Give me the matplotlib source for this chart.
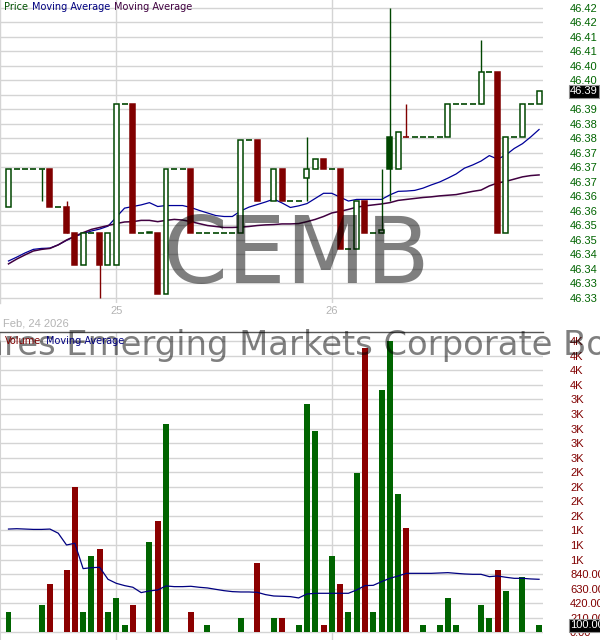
import numpy as np
import matplotlib
matplotlib.use('Agg')
import matplotlib.pyplot as plt
from matplotlib.transforms import blended_transform_factory

nan = float('nan')

# ---------------- data (15-minute bars) ----------------
opens = [46.358, 46.37, 46.37, 46.37, 46.37, 46.37, 46.358, 46.358, 46.35, 46.34,
         46.35, 46.35, 46.34, 46.34, 46.39, 46.39, 46.35, 46.3504, 46.35, 46.331,
         46.37, 46.37, 46.37, 46.35, 46.35, 46.35, 46.35, 46.35, 46.35, 46.379,
         46.379, nan, 46.36, 46.37, 46.36, 46.36, 46.367, 46.37, 46.373, 46.37,
         46.37, 46.345, 46.345, 46.36, 46.35, 46.35, 46.38, 46.37, 46.38, 46.38,
         46.38, 46.38, 46.38, 46.38, 46.39, 46.39, 46.39, 46.39, 46.40, 46.40,
         46.35, 46.38, 46.38, 46.39, 46.39]
highs = [46.37, 46.37, 46.37, 46.37, 46.37, 46.37, 46.358, 46.36, 46.35, 46.35,
         46.35, 46.35, 46.35, 46.39, 46.39, 46.39, 46.35, 46.3504, 46.35, 46.37,
         46.37, 46.37, 46.37, 46.35, 46.35, 46.35, 46.35, 46.35, 46.379, 46.379,
         46.379, nan, 46.37, 46.37, 46.36, 46.36, 46.38, 46.373, 46.373, 46.37,
         46.37, 46.345, 46.36, 46.36, 46.35, 46.37, 46.42, 46.3815, 46.39, 46.38,
         46.38, 46.38, 46.38, 46.39, 46.39, 46.39, 46.39, 46.41, 46.40, 46.40,
         46.38, 46.38, 46.39, 46.39, 46.394]
lows = [46.358, 46.37, 46.37, 46.37, 46.36, 46.358, 46.358, 46.35, 46.34, 46.34,
        46.35, 46.33, 46.34, 46.34, 46.39, 46.35, 46.35, 46.35, 46.331, 46.331,
        46.37, 46.37, 46.35, 46.35, 46.35, 46.35, 46.35, 46.35, 46.35, 46.379,
        46.36, nan, 46.36, 46.36, 46.36, 46.36, 46.36, 46.37, 46.37, 46.37,
        46.345, 46.345, 46.345, 46.35, 46.35, 46.35, 46.36, 46.37, 46.38, 46.38,
        46.38, 46.38, 46.38, 46.38, 46.39, 46.39, 46.39, 46.39, 46.40, 46.35,
        46.35, 46.38, 46.38, 46.39, 46.39]
closes = [46.37, 46.37, 46.37, 46.37, 46.37, 46.358, 46.358, 46.35, 46.34, 46.35,
          46.35, 46.34, 46.35, 46.39, 46.39, 46.35, 46.35, 46.35, 46.331, 46.37,
          46.37, 46.37, 46.35, 46.35, 46.35, 46.35, 46.35, 46.35, 46.379, 46.379,
          46.36, nan, 46.37, 46.36, 46.36, 46.36, 46.37, 46.373, 46.37, 46.37,
          46.345, 46.345, 46.36, 46.35, 46.35, 46.351, 46.37, 46.3815, 46.38, 46.38,
          46.38, 46.38, 46.38, 46.39, 46.39, 46.39, 46.39, 46.40, 46.40, 46.35,
          46.38, 46.38, 46.39, 46.39, 46.394]
ma_fast = [46.3414, 46.3426, 46.3439, 46.3450, 46.3453, 46.3454, 46.3464, 46.3478, 46.3490, 46.3499,
           46.3507, 46.3513, 46.3522, 46.3550, 46.3578, 46.3583, 46.3588, 46.3595, 46.3583, 46.3586,
           46.3586, 46.3586, 46.3580, 46.3571, 46.3563, 46.3555, 46.3552, 46.3552, 46.3569, 46.3581,
           46.3589, 46.3597, 46.3606, 46.3594, 46.3580, 46.3585, 46.3592, 46.3608, 46.3624, 46.3624,
           46.3612, 46.3600, 46.3605, 46.3605, 46.3605, 46.3605, 46.3619, 46.3630, 46.3631, 46.3633,
           46.3640, 46.3650, 46.3659, 46.3671, 46.3684, 46.3702, 46.3712, 46.3724, 46.3741, 46.3730,
           46.3743, 46.3763, 46.3778, 46.3799, 46.3822]
ma_slow = [46.3405, 46.3420, 46.3433, 46.3445, 46.3450, 46.3453, 46.3464, 46.3479, 46.3491, 46.3502,
           46.3512, 46.3518, 46.3524, 46.3530, 46.3535, 46.3536, 46.3540, 46.3540, 46.3536, 46.3540,
           46.3543, 46.3541, 46.3536, 46.3530, 46.3524, 46.3521, 46.3518, 46.3518, 46.3519, 46.3521,
           46.3524, 46.3526, 46.3527, 46.3529, 46.3529, 46.3530, 46.3536, 46.3543, 46.3552, 46.3563,
           46.3568, 46.3574, 46.3581, 46.3585, 46.3588, 46.3591, 46.3595, 46.3602, 46.3605, 46.3608,
           46.3611, 46.3613, 46.3616, 46.3618, 46.3620, 46.3625, 46.3630, 46.3634, 46.3647, 46.3656,
           46.3661, 46.3668, 46.3675, 46.3679, 46.3681]
volumes = [300, 0, 0, 0, 400, 700, 0, 900, 2100, 300,
           1100, 1200, 300, 500, 100, 400, 0, 1300, 1600, 3000,
           0, 0, 300, 0, 100, 0, 0, 0, 200, 0,
           1000, 0, 200, 200, 0, 100, 3300, 2900, 100, 1100,
           700, 300, 2300, 4100, 300, 3500, 4200, 2000, 1500, 0,
           100, 0, 100, 500, 100, 0, 0, 400, 200, 900,
           600, 0, 800, 0, 100]
vol_ma = [1490, 1495, 1490, 1485, 1485, 1490, 1430, 1260, 1285, 919,
          933, 938, 765, 707, 674, 650, 573, 597, 611, 669,
          659, 659, 664, 650, 640, 620, 601, 587, 582, 582,
          577, 544, 524, 520, 515, 496, 553, 563, 563, 563,
          563, 563, 611, 674, 678, 731, 779, 813, 851, 851,
          851, 851, 856, 861, 851, 842, 837, 837, 803, 813,
          794, 779, 779, 770, 765]

day_ticks = [13, 39]
day_labels = ['25', '26']
date_caption = 'Feb, 24 2026'
price_ticks = [46.33, 46.3345, 46.339, 46.3435, 46.348, 46.3525, 46.357, 46.3615, 46.366, 46.3705,
               46.375, 46.3795, 46.384, 46.3885, 46.393, 46.3975, 46.402, 46.4065, 46.411, 46.4155, 46.42]
price_labels = ['46.33', '46.33', '46.34', '46.34', '46.35', '46.35', '46.36', '46.36', '46.37', '46.37',
                '46.37', '46.38', '46.38', '46.39', '46.39', '46.40', '46.40', '46.41', '46.41', '46.42', '46.42']
vol_ticks = [0, 210, 420, 630, 840, 1050, 1260, 1470, 1680, 1890, 2100,
             2310, 2520, 2730, 2940, 3150, 3360, 3570, 3780, 3990, 4200]
vol_labels = ['0.00', '210.00', '420.00', '630.00', '840.00', '1K', '1K', '1K', '2K', '2K', '2K',
              '2K', '3K', '3K', '3K', '3K', '3K', '4K', '4K', '4K', '4K']
last_price_label = '46.39'
last_vol_label = '100.00'

# ---------------- styles ----------------
GREEN = '#004600'
RED = '#800000'
VGREEN = '#006400'
VRED = '#8b0000'
GRID = '#d4d4d4'
BLUE = '#000099'
PURPLE = '#400040'

W, H = 600, 640
fig = plt.figure(figsize=(6, 6.4), dpi=100)
fig.patch.set_facecolor('white')

axp = fig.add_axes([0, 1 - 303 / H, 543 / W, 303 / H])
axv = fig.add_axes([0, 0, 543 / W, 307.7 / H])

xlim = (-1.025, 64.475)
n = len(closes)
x = np.arange(n)

# ---------------- price panel ----------------
axp.set_axisbelow(True)
axp.plot(x, ma_fast, color=BLUE, lw=0.9, zorder=2)
axp.plot(x, ma_slow, color=PURPLE, lw=1.1, zorder=2)

prev = None
for i in range(n):
    o, h, l, c = opens[i], highs[i], lows[i], closes[i]
    if np.isnan(c):
        continue
    col = GREEN if (prev is None or c >= prev) else RED
    prev = c
    if h > max(o, c) + 1e-9 or l < min(o, c) - 1e-9:
        axp.vlines(i, l, h, color=col, lw=1.0, zorder=3)
    if abs(c - o) < 1e-9:
        axp.hlines(c, i - 0.36, i + 0.36, color=col, lw=1.2, zorder=4)
    else:
        face = 'white' if c > o else col
        axp.bar(i, abs(c - o), bottom=min(o, c), width=0.6, facecolor=face,
                edgecolor=col, linewidth=1.1, zorder=4)

axp.set_xlim(*xlim)
axp.set_ylim(46.32836, 46.42238)
axp.set_yticks(price_ticks)
axp.set_yticklabels(price_labels)
axp.yaxis.tick_right()
axp.tick_params(axis='y', length=0, pad=19.5, labelsize=8, labelcolor='#006400')
for t in axp.get_yticklabels():
    t.set_family('Liberation Sans')
axp.set_xticks(day_ticks)
axp.set_xticklabels(day_labels)
axp.tick_params(axis='x', length=0, pad=2.5, labelsize=8, labelcolor='#b4b4b4')
for t in axp.get_xticklabels():
    t.set_family('Liberation Sans')
axp.grid(True, color=GRID, lw=1.0)
for s in ['top', 'right', 'bottom']:
    axp.spines[s].set_visible(False)
axp.spines['left'].set_color(GRID)
axp.spines['left'].set_linewidth(1.0)

trp = blended_transform_factory(axp.transAxes, axp.transData)
axp.text(570 / 543, closes[-1], last_price_label, transform=trp, ha='left', va='center',
         fontsize=8, family='Liberation Sans', color='white', zorder=10,
         bbox=dict(boxstyle='square,pad=0.12', fc='black', ec='#909090', lw=0.8))

# ---------------- volume panel ----------------
axv.set_axisbelow(True)
vcols = []
prev = None
for i in range(n):
    c = closes[i]
    if np.isnan(c):
        vcols.append(VGREEN)
        continue
    vcols.append(VGREEN if (prev is None or c >= prev) else VRED)
    prev = c
axv.bar(x, volumes, width=0.72, color=vcols, linewidth=0, zorder=3)
axv.plot(x, vol_ma, color='#000080', lw=0.9, zorder=4)

axv.set_xlim(*xlim)
axv.set_ylim(-111.1, 4329.6)
axv.set_yticks(vol_ticks)
axv.set_yticklabels(vol_labels)
axv.yaxis.tick_right()
axv.tick_params(axis='y', length=0, pad=19.5, labelsize=8, labelcolor=RED)
for t in axv.get_yticklabels():
    t.set_family('Liberation Sans')
axv.set_xticks(day_ticks)
axv.set_xticklabels([])
axv.tick_params(axis='x', length=0)
axv.grid(True, color=GRID, lw=1.0)
for s in ['right', 'bottom']:
    axv.spines[s].set_visible(False)
axv.spines['top'].set_color('#555555')
axv.spines['top'].set_linewidth(1.0)
axv.spines['left'].set_color(GRID)

trv = blended_transform_factory(axv.transAxes, axv.transData)
axv.text(570 / 543, volumes[-1], last_vol_label, transform=trv, ha='left', va='center',
         fontsize=8, family='Liberation Sans', color='white', zorder=10,
         bbox=dict(boxstyle='square,pad=0.12', fc='black', ec='#909090', lw=0.8))

# ---------------- texts ----------------
fig.text(296.5 / W, 1 - 283.3 / H, 'CEMB', ha='center', va='baseline', fontsize=67,
         family='DejaVu Sans', color='black', alpha=0.5, zorder=20)
fig.text(326 / W, 1 - 355 / H, 'iShares Emerging Markets Corporate Bond ETF', ha='center',
         va='baseline', fontsize=24.3, family='DejaVu Sans', color='black', alpha=0.5, zorder=20)

fig.text(4 / W, 1 - 7 / H, 'Price', ha='left', va='center', fontsize=7, color='#005000')
fig.text(32.3 / W, 1 - 7 / H, 'Moving Average', ha='left', va='center', fontsize=7, color='#000080')
fig.text(114.3 / W, 1 - 7 / H, 'Moving Average', ha='left', va='center', fontsize=7, color=PURPLE)

fig.text(5 / W, 1 - 341 / H, 'Volume', ha='left', va='center', fontsize=7, color=RED, zorder=21)
fig.text(45.7 / W, 1 - 341 / H, 'Moving Average', ha='left', va='center', fontsize=7,
         color='#000080', zorder=21)

fig.text(3 / W, 1 - 324 / H, date_caption, ha='left', va='center', fontsize=8,
         family='Liberation Sans', color='#b4b4b4')

fig.savefig('out.png', dpi=100, facecolor='white')
